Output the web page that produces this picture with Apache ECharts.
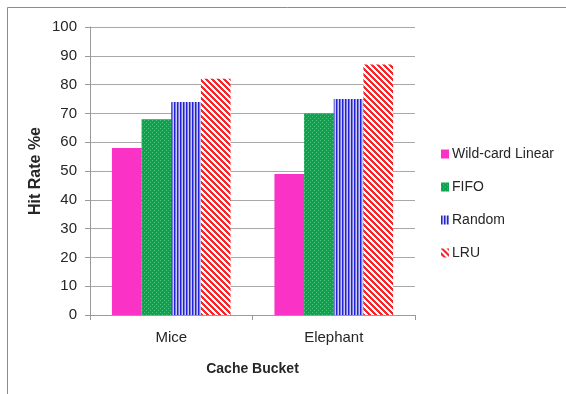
<!DOCTYPE html>
<html>
<head>
<meta charset="utf-8">
<script src="https://cdn.jsdelivr.net/npm/echarts@6/dist/echarts.min.js"></script>
<style>
  html, body { margin: 0; padding: 0; background: #ffffff; }
  #chart { width: 566px; height: 394px; }
</style>
</head>
<body>
<div id="chart"></div>
<script>
// Chart data
var categories = ['Mice', 'Elephant'];
var seriesNames = ['Wild-card Linear', 'FIFO', 'Random', 'LRU'];
var wildcardValues = [58, 49];
var fifoValues = [68, 70];
var randomValues = [74, 75];
var lruValues = [82, 87];
var yTicks = [0, 10, 20, 30, 40, 50, 60, 70, 80, 90, 100];

// Small tiled canvases used as bar fills
function makeTile(w, h, draw) {
  var c = document.createElement('canvas');
  c.width = w; c.height = h;
  var ctx = c.getContext('2d');
  draw(ctx, w, h);
  return c;
}

var dotTile = makeTile(4, 4, function (ctx, w, h) {
  ctx.fillStyle = '#0da34e';
  ctx.fillRect(0, 0, w, h);
  ctx.fillStyle = '#52c07f';
  ctx.fillRect(0, 0, 1, 1);
  ctx.fillRect(2, 2, 1, 1);
});

var vStripeTile = makeTile(3, 4, function (ctx, w, h) {
  ctx.fillStyle = '#c9c9f2';
  ctx.fillRect(0, 0, w, h);
  ctx.fillStyle = '#2222d0';
  ctx.fillRect(0, 0, 1, h);
  ctx.fillStyle = '#7b7be0';
  ctx.fillRect(1, 0, 1, h);
});

var diagTile = makeTile(6, 6, function (ctx, w, h) {
  ctx.fillStyle = '#ffffff';
  ctx.fillRect(0, 0, w, h);
  ctx.fillStyle = '#f4262a';
  for (var y = 0; y < h; y++) {
    for (var x = 0; x < w; x++) {
      var d = ((x - y) % 6 + 6) % 6;
      if (d < 3) ctx.fillRect(x, y, 1, 1);
    }
  }
});

var fills = [
  '#fa32c6',
  { image: dotTile, repeat: 'repeat' },
  { image: vStripeTile, repeat: 'repeat' },
  { image: diagTile, repeat: 'repeat' }
];
var valueSets = [wildcardValues, fifoValues, randomValues, lruValues];

var textColor = '#262626';
var fontFamily = '"Liberation Sans", "DejaVu Sans", sans-serif';

var chart = echarts.init(document.getElementById('chart'), null, { renderer: 'canvas' });

chart.setOption({
  animation: false,
  backgroundColor: '#ffffff',
  textStyle: { fontFamily: fontFamily, color: textColor },
  graphic: [{
    type: 'rect',
    shape: { x: 7.5, y: 7.5, width: 580, height: 400 },
    style: { fill: 'none', stroke: '#8c8c8c', lineWidth: 1 },
    silent: true,
    z: -1
  }],
  grid: { left: 90, right: 151, top: 27, bottom: 79 },
  legend: {
    orient: 'vertical',
    left: 441,
    top: 147,
    padding: 0,
    itemWidth: 8,
    itemHeight: 9,
    itemGap: 19,
    icon: 'rect',
    textStyle: { fontSize: 14, color: textColor, fontFamily: fontFamily, padding: [0, 0, 0, -2] },
    data: seriesNames
  },
  xAxis: {
    type: 'category',
    data: categories,
    name: 'Cache Bucket',
    nameLocation: 'middle',
    nameGap: 47,
    nameMoveOverlap: false,
    nameTextStyle: { fontSize: 14, fontWeight: 'bold', color: textColor },
    axisLine: { show: true, lineStyle: { color: '#9a9a9a', width: 1 } },
    axisTick: { show: true, length: 5, alignWithLabel: false, lineStyle: { color: '#9a9a9a' } },
    axisLabel: { fontSize: 15, color: textColor, margin: 15 },
    splitLine: { show: false }
  },
  yAxis: {
    type: 'value',
    min: yTicks[0],
    max: yTicks[yTicks.length - 1],
    interval: yTicks[1] - yTicks[0],
    name: 'Hit Rate %e',
    nameLocation: 'middle',
    nameGap: 46,
    nameMoveOverlap: false,
    nameRotate: 90,
    nameTextStyle: { fontSize: 16, fontWeight: 'bold', color: textColor },
    axisLine: { show: true, lineStyle: { color: '#9a9a9a', width: 1 } },
    axisTick: { show: true, length: 5, lineStyle: { color: '#9a9a9a' } },
    axisLabel: { fontSize: 15, color: textColor, margin: 13 },
    splitLine: { show: true, lineStyle: { color: '#a8a8a8', width: 1 } }
  },
  series: seriesNames.map(function (name, i) {
    return {
      name: name,
      type: 'bar',
      data: valueSets[i],
      barGap: '0%',
      barCategoryGap: '27%',
      itemStyle: { color: fills[i] }
    };
  })
});
</script>
</body>
</html>
